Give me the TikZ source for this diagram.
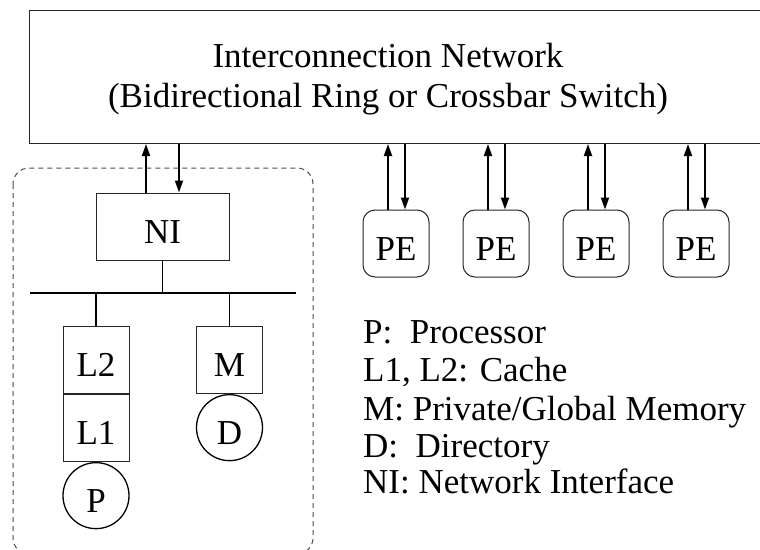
\documentclass[tikz,border=0pt]{standalone}
\usepackage{fontspec}
\setmainfont{Liberation Serif}
\usetikzlibrary{arrows.meta}
\begin{document}
\begin{tikzpicture}[x=1pt,y=-1pt,
  bigtext/.style={font=\fontsize{35}{40}\selectfont},
  box/.style={draw=black!85, line width=1pt, minimum width=66pt, minimum height=67pt,
    inner sep=0pt, bigtext, text height=33pt, text depth=0pt},
  rbox/.style={box, rounded corners=12pt},
  ball/.style={circle, draw=black, line width=1.3pt, minimum size=66pt, inner sep=0pt,
    bigtext, text height=33pt, text depth=0pt},
  link/.style={line width=1.8pt},
  arr/.style={line width=1.8pt, -{Triangle[length=12pt,width=8pt]}},
  legend/.style={bigtext, inner sep=0pt, anchor=base west}]
\clip (0,0) rectangle (760,549);
\fill[white] (0,0) rectangle (760,549);

% interconnection network (runs off the right edge)
\node[draw=black!85, line width=1pt, minimum width=760pt, minimum height=133pt,
  inner sep=0pt, anchor=north west] (net) at (29,10) {};
\node[bigtext, align=center, inner sep=0pt] (title) at (388,79)
  {Interconnection Network\\(Bidirectional Ring or Crossbar Switch)};

% expanded processing element
\draw[dashed, dash pattern=on 5pt off 4pt, draw=black!70, line width=1pt,
  rounded corners=16pt] (13,168) rectangle (313,554);

\node[box, minimum width=133pt] (ni) at (162.5,226.5) {NI};
\draw[arr] ([xshift=-16.5pt]ni.north) -- ([xshift=-16.5pt]ni.north |- net.south);
\draw[arr] ([xshift=16.5pt]ni.north |- net.south) -- ([xshift=16.5pt]ni.north);

\coordinate (busl) at (30,293);
\coordinate (busr) at (296,293);
\draw[link] (busl) -- (busr);
\draw[link] (ni.south) -- (ni.south |- busl);

\node[box] (l2) at (96,360) {L2};
\node[box, anchor=north] (l1) at (l2.south) {L1};
\node[ball, anchor=north] (p) at (l1.south) {P};
\node[box] (m) at (229.5,360) {M};
\node[ball, anchor=north] (d) at (m.south) {D};
\draw[link] (l2.north |- busl) -- (l2.north);
\draw[link] (m.north |- busl) -- (m.north);

% other processing elements
\foreach \i/\x in {1/396,2/496,3/596,4/696} {
  \node[rbox] (pe\i) at (\x,243.5) {PE};
  \draw[arr] ([xshift=-8pt]pe\i.north) -- ([xshift=-8pt]pe\i.north |- net.south);
  \draw[arr] ([xshift=9pt]pe\i.north |- net.south) -- ([xshift=9pt]pe\i.north);
}

% legend
\node[legend] (lg1) at (363,343) {P:\ \ Processor};
\node[legend] (lg2) at (363,381.5) {L1, L2: Cache};
\node[legend] (lg3) at (363,420) {M: Private/Global Memory};
\node[legend] (lg4) at (363,457) {D:\ \ Directory};
\node[legend] (lg5) at (363,493.5) {NI: Network Interface};
\end{tikzpicture}
\end{document}
